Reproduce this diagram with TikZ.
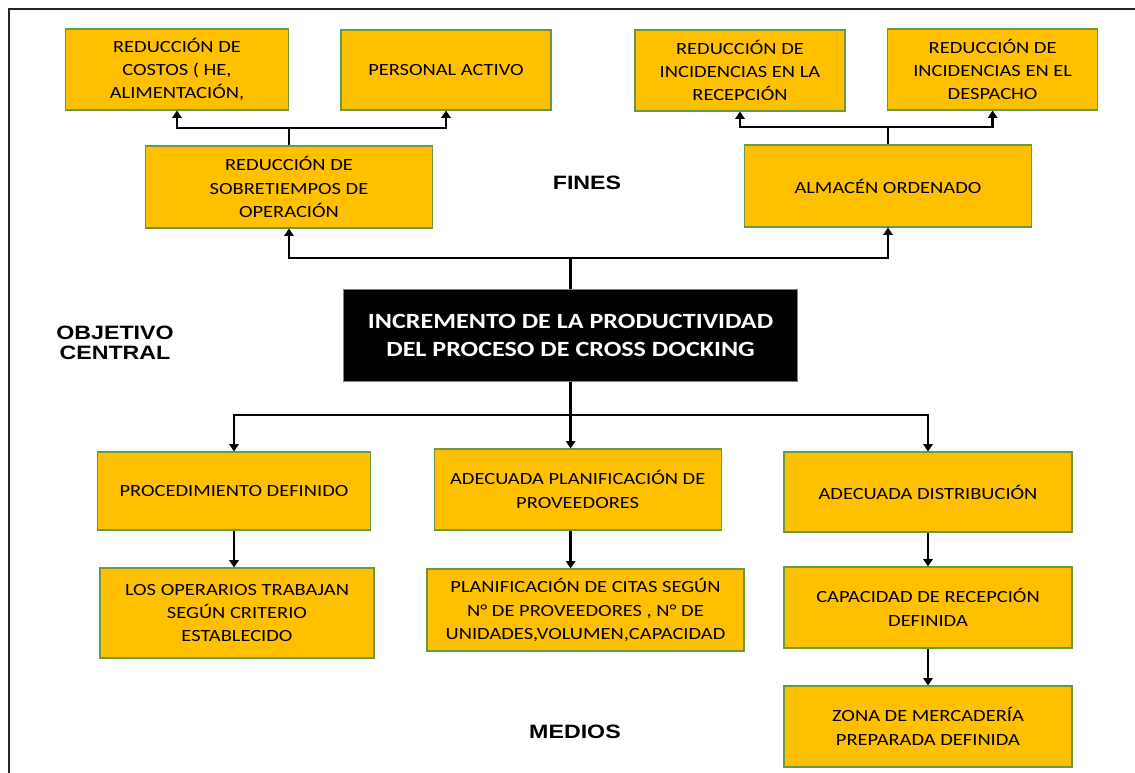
\documentclass[tikz,border=0pt]{standalone}
\usepackage{fontspec}
\usetikzlibrary{arrows.meta}
\newfontfamily\boxfont[FakeStretch=1.2]{Carlito}
\newfontfamily\lblfont[FakeStretch=1.2]{Liberation Sans}
\definecolor{boxfill}{HTML}{FFC000}
\definecolor{boxline}{HTML}{6A9A40}
\tikzset{
  box/.style={draw=boxline, line width=0.8pt, fill=boxfill, align=center, inner sep=2pt,
    font=\boxfont\fontsize{12.8}{17.5}\selectfont},
  mainbox/.style={draw=boxline, line width=0.8pt, fill=black, text=white, align=center,
    font=\boxfont\bfseries\fontsize{16.3}{21}\selectfont},
  lbl/.style={align=center, font=\lblfont\bfseries\fontsize{14.5}{15}\selectfont},
  link/.style={line width=1.8pt, black},
  arr/.style={link, -{Triangle[width=7pt,length=5.5pt]}},
  frame/.style={line width=1.5pt, black!85}
}
\begin{document}
\begin{tikzpicture}[x=0.75pt,y=0.75pt,yscale=-1,xscale=1]
			\useasboundingbox (0,0) rectangle (1135,773);
			\draw[frame] (1135,9) -- (8.7,9) -- (8.7,773);
			
			% fines
			\node[box, minimum width=166.9pt, minimum height=60.75pt] (costos) at (177,69.5) {REDUCCIÓN DE\\COSTOS ( HE,\\ALIMENTACIÓN,};
			\node[box, minimum width=157.5pt, minimum height=60pt] (personal) at (446,70) {PERSONAL ACTIVO};
			\node[box, minimum width=215pt, minimum height=61.5pt] (sobre) at (289,187) {REDUCCIÓN DE\\SOBRETIEMPOS DE\\OPERACIÓN};
			\node[box, minimum width=157.5pt, minimum height=60.75pt] (recep) at (740,70.5) {REDUCCIÓN DE\\INCIDENCIAS EN LA\\RECEPCIÓN};
			\node[box, minimum width=157.5pt, minimum height=60.75pt] (despacho) at (992.6,69.5) {REDUCCIÓN DE\\INCIDENCIAS EN EL\\DESPACHO};
			\node[box, minimum width=215.6pt, minimum height=61.5pt] (almacen) at (888,186) {ALMACÉN ORDENADO};
			
			% objetivo central
			\node[mainbox, minimum width=340.5pt, minimum height=69.4pt] (central) at (570.6,335.5) {INCREMENTO DE LA PRODUCTIVIDAD\\DEL PROCESO DE CROSS DOCKING};
			
			% medios
			\node[box, minimum width=205pt, minimum height=58.5pt] (proc) at (234,491) {PROCEDIMIENTO DEFINIDO};
			\node[box, minimum width=205.5pt, minimum height=67.5pt] (operarios) at (237,613) {LOS OPERARIOS TRABAJAN\\SEGÚN CRITERIO\\ESTABLECIDO};
			\node[box, minimum width=215.5pt, minimum height=60.75pt] (planif) at (577.7,489.5) {ADECUADA PLANIFICACIÓN DE\\PROVEEDORES};
			\node[box, minimum width=237.75pt, minimum height=61.5pt] (citas) at (585.5,610) {PLANIFICACIÓN DE CITAS SEGÚN\\N° DE PROVEEDORES , N° DE\\UNIDADES,VOLUMEN,CAPACIDAD};
			\node[box, minimum width=216pt, minimum height=60pt] (distrib) at (928,492) {ADECUADA DISTRIBUCIÓN};
			\node[box, minimum width=216pt, minimum height=60.75pt] (capac) at (928,607.5) {CAPACIDAD DE RECEPCIÓN\\DEFINIDA};
			\node[box, minimum width=216pt, minimum height=60.75pt] (zona) at (928,726.5) {ZONA DE MERCADERÍA\\PREPARADA DEFINIDA};
			
			\node[lbl] (fines) at (587,183) {FINES};
			\node[lbl] (objetivo) at (115,343) {OBJETIVO\\CENTRAL};
			\node[lbl] (medios) at (575,732) {MEDIOS};
			
			% conectores
			\coordinate (jA) at (289,128);
			\coordinate (jC) at (888,127);
			\coordinate (jT) at (570.6,258);
			\coordinate (jB) at (570.6,415);
			\draw[link] (sobre.north) -- (jA);
			\draw[arr] (jA) -| (costos.south);
			\draw[arr] (jA) -| (personal.south);
			\draw[link] (almacen.north) -- (jC);
			\draw[arr] (jC) -| (recep.south);
			\draw[arr] (jC) -| (despacho.south);
			\draw[link] (central.north) -- (jT);
			\draw[arr] (jT) -| (sobre.south);
			\draw[arr] (jT) -| (almacen.south);
			\draw[link] (central.south) -- (jB);
			\draw[arr] (jB) -| (proc.north);
			\draw[arr] (jB) -- (planif.north -| jB);
			\draw[arr] (jB) -| (distrib.north);
			\draw[arr] (proc.south) -- (proc.south |- operarios.north);
			\draw[arr] (planif.south -| jB) -- (citas.north -| jB);
			\draw[arr] (distrib.south) -- (capac.north);
			\draw[arr] (capac.south) -- (zona.north);
			\end{tikzpicture}
\end{document}
